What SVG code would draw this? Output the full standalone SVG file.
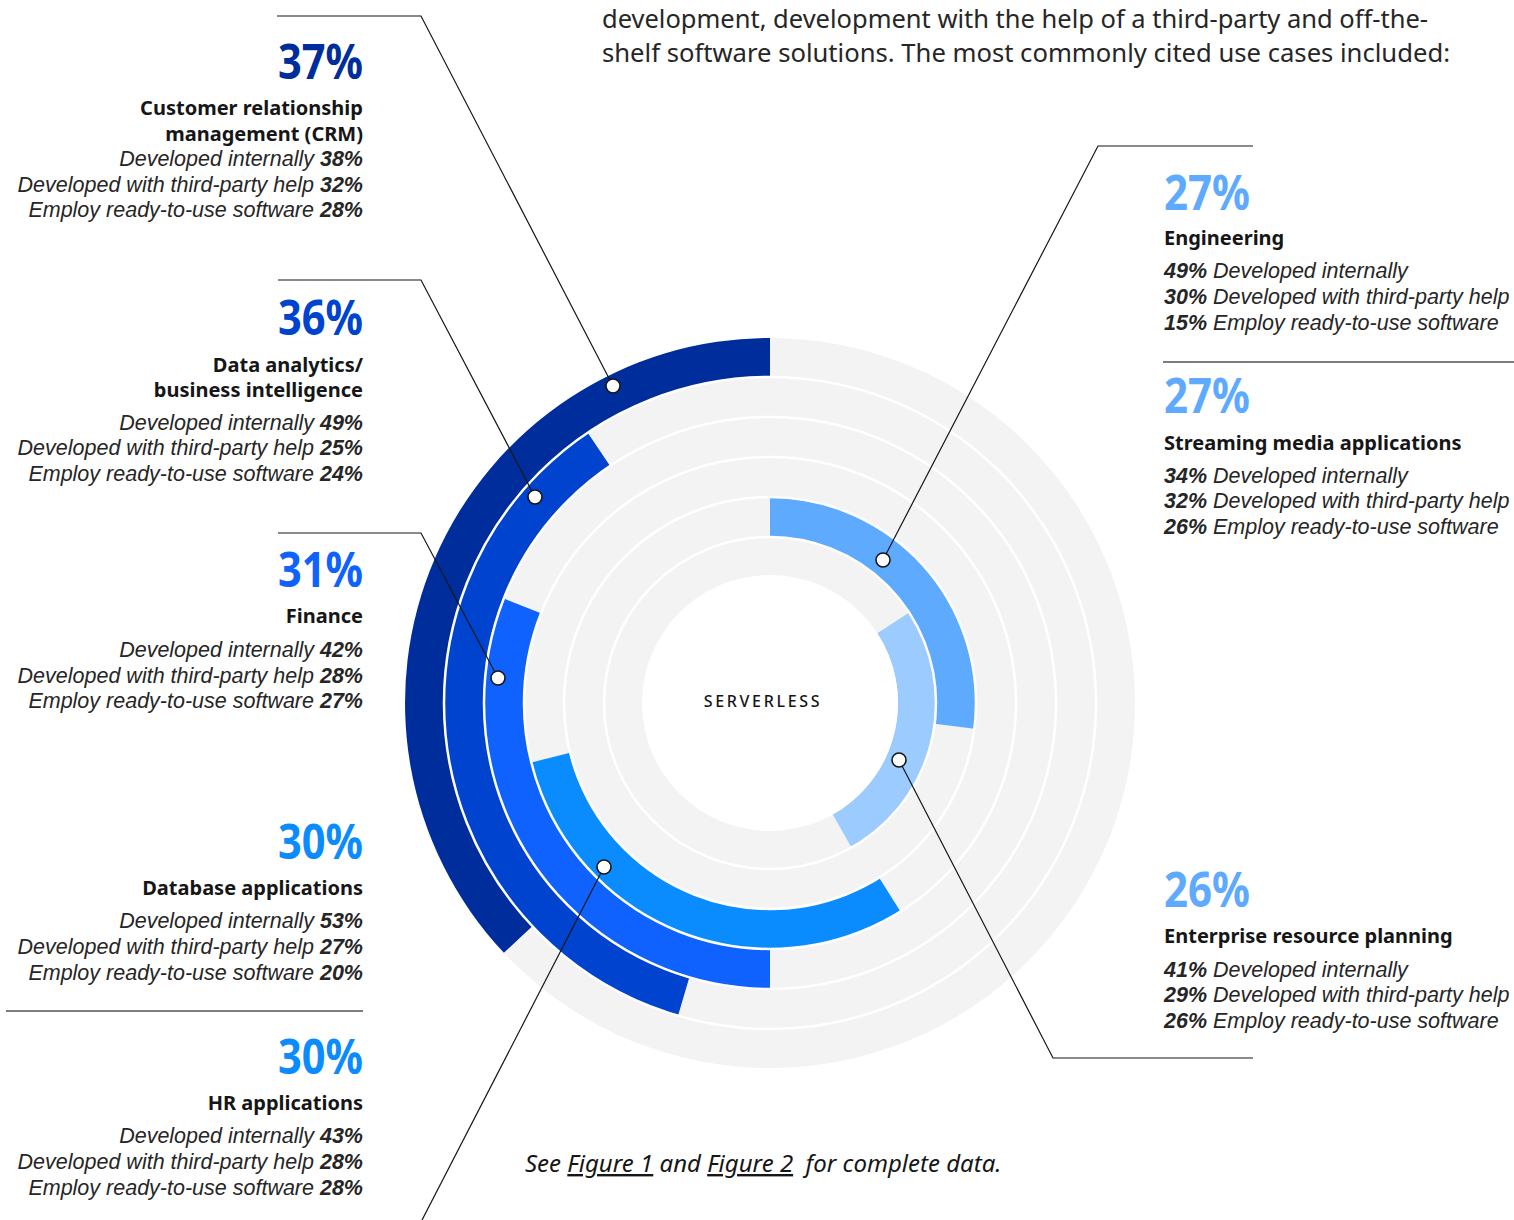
<svg xmlns="http://www.w3.org/2000/svg" width="1514" height="1220" viewBox="0 0 1514 1220">
<style>
text{font-family:"Noto Sans","Liberation Sans",sans-serif}
.pct{font-weight:700;font-size:48px}
.ttl{font-weight:700;font-size:20px;fill:#161616}
.det{font-family:"Liberation Sans",Arial,sans-serif;font-style:italic;font-size:21.5px;fill:#262626}
.b{font-weight:700}
.lead{fill:none;stroke:#161616;stroke-width:1.2}
.dot{fill:#fff;stroke:#161616;stroke-width:1.6}
.sep{stroke:#525252;stroke-width:1.3}
.ringline{fill:none;stroke:#fff;stroke-width:2.5}
.para{font-size:26px;fill:#262626}
</style>
<rect width="1514" height="1220" fill="#fff"/>
<g id="intro">
<text class="para" x="602" y="28" textLength="826" lengthAdjust="spacingAndGlyphs">development, development with the help of a third-party and off-the-</text>
<text class="para" x="602" y="62" textLength="848" lengthAdjust="spacingAndGlyphs">shelf software solutions. The most commonly cited use cases included:</text>
</g>
<g id="chart">
<circle cx="770" cy="703" r="365" fill="#f3f3f3"/>
<path id="arc-crm" fill="#002D9C" d="M770 338 A365 365 0 0 0 503.9 952.8 L532.3 926.2 A326 326 0 0 1 770 377 Z"/>
<path id="arc-data" fill="#0043CE" d="M587.7 432.7 A326 326 0 0 0 678 1015.7 L689.3 977.4 A286 286 0 0 1 610.1 465.9 Z"/>
<path id="arc-finance" fill="#0F62FE" d="M503.7 598.6 A286 286 0 0 0 770 989 L770 949 A246 246 0 0 1 540.9 613.2 Z"/>
<path id="arc-database" fill="#0A8CFF" d="M531.3 762.5 A246 246 0 0 0 900.4 911.6 L879.2 877.7 A206 206 0 0 1 570.1 752.8 Z"/>
<path id="arc-engineering" fill="#5EAAFF" d="M770 497 A206 206 0 0 1 974.4 728.8 L934.7 723.8 A166 166 0 0 0 770 537 Z"/>
<path id="arc-erp" fill="#9CCBFF" d="M909.2 612.6 A166 166 0 0 1 851.5 847.6 L832.8 814.5 A128 128 0 0 0 877.4 633.3 Z"/>
<circle class="ringline" cx="770" cy="703" r="326"/>
<circle class="ringline" cx="770" cy="703" r="286"/>
<circle class="ringline" cx="770" cy="703" r="246"/>
<circle class="ringline" cx="770" cy="703" r="206"/>
<circle class="ringline" cx="770" cy="703" r="166"/>
<circle cx="770" cy="703" r="128" fill="#fff"/>
<text x="763" y="707" text-anchor="middle" font-size="16" font-weight="500" letter-spacing="2.7" fill="#161616">SERVERLESS</text>
</g>
<g id="connectors">
<path class="lead" d="M277 16 H421 L613 386"/>
<path class="lead" d="M278 280 H421 L535 497"/>
<path class="lead" d="M278 533 H421 L498 678"/>
<path class="lead" d="M604 867 L421 1222"/>
<path class="lead" d="M883 560 L1098 146 H1253"/>
<path class="lead" d="M899 760 L1053 1058 H1253"/>
<circle class="dot" cx="613" cy="386" r="7"/>
<circle class="dot" cx="535" cy="497" r="7"/>
<circle class="dot" cx="498" cy="678" r="7"/>
<circle class="dot" cx="604" cy="867" r="7"/>
<circle class="dot" cx="883" cy="560" r="7"/>
<circle class="dot" cx="899" cy="760" r="7"/>
</g>
<g id="crm" text-anchor="end">
<text class="pct" x="363" y="79" fill="#002D9C" textLength="85" lengthAdjust="spacingAndGlyphs">37%</text>
<text class="ttl" x="363" y="115">Customer relationship</text>
<text class="ttl" x="363" y="141">management (CRM)</text>
<text class="det" x="363" y="166">Developed internally <tspan class="b">38%</tspan></text>
<text class="det" x="363" y="192">Developed with third-party help <tspan class="b">32%</tspan></text>
<text class="det" x="363" y="217">Employ ready-to-use software <tspan class="b">28%</tspan></text>
</g>
<g id="data-analytics" text-anchor="end">
<text class="pct" x="363" y="335" fill="#0043CE" textLength="85" lengthAdjust="spacingAndGlyphs">36%</text>
<text class="ttl" x="363" y="372">Data analytics/</text>
<text class="ttl" x="363" y="397">business intelligence</text>
<text class="det" x="363" y="430">Developed internally <tspan class="b">49%</tspan></text>
<text class="det" x="363" y="455">Developed with third-party help <tspan class="b">25%</tspan></text>
<text class="det" x="363" y="481">Employ ready-to-use software <tspan class="b">24%</tspan></text>
</g>
<g id="finance" text-anchor="end">
<text class="pct" x="363" y="587" fill="#0F62FE" textLength="85" lengthAdjust="spacingAndGlyphs">31%</text>
<text class="ttl" x="363" y="623">Finance</text>
<text class="det" x="363" y="657">Developed internally <tspan class="b">42%</tspan></text>
<text class="det" x="363" y="683">Developed with third-party help <tspan class="b">28%</tspan></text>
<text class="det" x="363" y="708">Employ ready-to-use software <tspan class="b">27%</tspan></text>
</g>
<g id="database" text-anchor="end">
<text class="pct" x="363" y="859" fill="#0A8CFF" textLength="85" lengthAdjust="spacingAndGlyphs">30%</text>
<text class="ttl" x="363" y="895">Database applications</text>
<text class="det" x="363" y="928">Developed internally <tspan class="b">53%</tspan></text>
<text class="det" x="363" y="954">Developed with third-party help <tspan class="b">27%</tspan></text>
<text class="det" x="363" y="980">Employ ready-to-use software <tspan class="b">20%</tspan></text>
<line class="sep" x1="6" y1="1011" x2="363" y2="1011"/>
</g>
<g id="hr" text-anchor="end">
<text class="pct" x="363" y="1074" fill="#0A8CFF" textLength="85" lengthAdjust="spacingAndGlyphs">30%</text>
<text class="ttl" x="363" y="1110">HR applications</text>
<text class="det" x="363" y="1143">Developed internally <tspan class="b">43%</tspan></text>
<text class="det" x="363" y="1169">Developed with third-party help <tspan class="b">28%</tspan></text>
<text class="det" x="363" y="1195">Employ ready-to-use software <tspan class="b">28%</tspan></text>
</g>
<g id="engineering">
<text class="pct" x="1164" y="210" fill="#5EAAFF" textLength="86" lengthAdjust="spacingAndGlyphs">27%</text>
<text class="ttl" x="1164" y="245">Engineering</text>
<text class="det" x="1164" y="278"><tspan class="b">49%</tspan> Developed internally</text>
<text class="det" x="1164" y="304"><tspan class="b">30%</tspan> Developed with third-party help</text>
<text class="det" x="1164" y="330"><tspan class="b">15%</tspan> Employ ready-to-use software</text>
<line class="sep" x1="1163" y1="362" x2="1514" y2="362"/>
</g>
<g id="streaming">
<text class="pct" x="1164" y="413" fill="#5EAAFF" textLength="86" lengthAdjust="spacingAndGlyphs">27%</text>
<text class="ttl" x="1164" y="450">Streaming media applications</text>
<text class="det" x="1164" y="483"><tspan class="b">34%</tspan> Developed internally</text>
<text class="det" x="1164" y="508"><tspan class="b">32%</tspan> Developed with third-party help</text>
<text class="det" x="1164" y="534"><tspan class="b">26%</tspan> Employ ready-to-use software</text>
</g>
<g id="erp">
<text class="pct" x="1164" y="907" fill="#5EAAFF" textLength="86" lengthAdjust="spacingAndGlyphs">26%</text>
<text class="ttl" x="1164" y="943">Enterprise resource planning</text>
<text class="det" x="1164" y="977"><tspan class="b">41%</tspan> Developed internally</text>
<text class="det" x="1164" y="1002"><tspan class="b">29%</tspan> Developed with third-party help</text>
<text class="det" x="1164" y="1028"><tspan class="b">26%</tspan> Employ ready-to-use software</text>
</g>
<g id="footnote">
<text x="525" y="1172" font-size="24" font-style="italic" fill="#161616" style="white-space:pre">See <tspan text-decoration="underline">Figure 1</tspan> and <tspan text-decoration="underline">Figure 2</tspan>  for complete data.</text>
</g>
</svg>
